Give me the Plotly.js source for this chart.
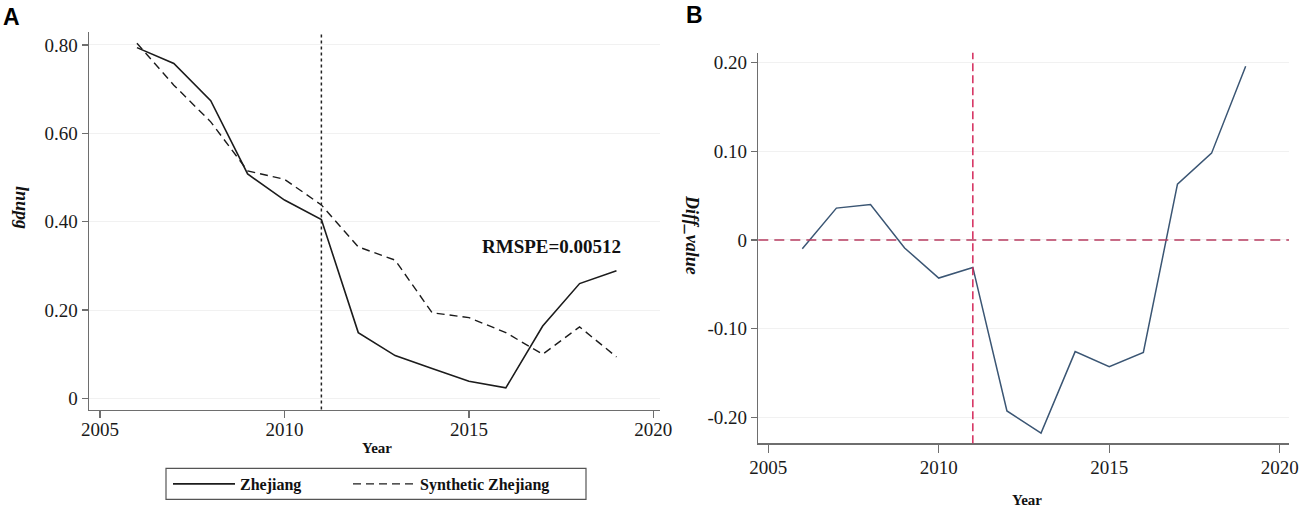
<!DOCTYPE html>
<html>
<head>
<meta charset="utf-8">
<script src="https://cdn.plot.ly/plotly-3.0.1.min.js"></script>
<style>
  html, body { margin: 0; padding: 0; background: #ffffff; }
  #chart { width: 1304px; height: 513px; }
</style>
</head>
<body>
<div id="chart"></div>
<script>
// ---------- data ----------
const years = [2006, 2007, 2008, 2009, 2010, 2011, 2012, 2013, 2014, 2015, 2016, 2017, 2018, 2019];
const zhejiang = [0.794, 0.758, 0.674, 0.508, 0.449, 0.405, 0.149, 0.097, 0.068, 0.039, 0.024, 0.164, 0.260, 0.289];
const syntheticZhejiang = [0.804, 0.709, 0.626, 0.515, 0.496, 0.438, 0.343, 0.313, 0.194, 0.183, 0.149, 0.100, 0.162, 0.094];
const diffValue = [-0.010, 0.036, 0.040, -0.009, -0.043, -0.031, -0.193, -0.218, -0.126, -0.143, -0.127, 0.063, 0.098, 0.196];
const treatYear = 2011;
const rmspeLabel = "RMSPE=0.00512";
const seriesNames = ["Zhejiang", "Synthetic Zhejiang"];
const xTitle = "Year";
const yTitleA = "lnupg";
const yTitleB = "Diff_value";

const xTickVals = [2005, 2010, 2015, 2020];
const xTickText = ["2005", "2010", "2015", "2020"];
const yTickValsA = [0, 0.2, 0.4, 0.6, 0.8];
const yTickTextA = ["0", "0.20", "0.40", "0.60", "0.80"];
const yTickValsB = [-0.2, -0.1, 0, 0.1, 0.2];
const yTickTextB = ["-0.20", "-0.10", "0", "0.10", "0.20"];

// ---------- layout helpers ----------
const W = 1304, H = 513;
const px = v => v / W;
const py = v => 1 - v / H;
const serif = "Liberation Serif";
const axisGray = "#6e6e6e";
const legendFont = { family: serif, size: 16, color: "#111111", weight: "bold" };

const traces = [
  {
    x: years, y: zhejiang, name: seriesNames[0], type: "scatter", mode: "lines",
    line: { color: "#1c1c1c", width: 1.6 }, xaxis: "x", yaxis: "y", showlegend: true, legend: "legend"
  },
  {
    x: years, y: syntheticZhejiang, name: seriesNames[1], type: "scatter", mode: "lines",
    line: { color: "#1c1c1c", width: 1.4, dash: "8px,5px" }, xaxis: "x", yaxis: "y", showlegend: true, legend: "legend2"
  },
  {
    x: years, y: diffValue, name: yTitleB, type: "scatter", mode: "lines",
    line: { color: "#3b5674", width: 1.5 }, xaxis: "x2", yaxis: "y2", showlegend: false
  }
];

function axisCommon(extra) {
  return Object.assign({
    showline: true, linecolor: axisGray, linewidth: 1.5,
    ticks: "outside", tickcolor: axisGray, tickwidth: 1.3,
    zeroline: false,
    tickfont: { family: serif, size: 19, color: "#1a1a1a" }
  }, extra);
}

const layout = {
  width: W, height: H,
  margin: { l: 0, r: 0, t: 0, b: 0 },
  font: { family: serif, color: "#1a1a1a" },
  paper_bgcolor: "#ffffff", plot_bgcolor: "#ffffff",
  showlegend: true,
  legend: {
    orientation: "h", x: px(168), y: py(484), xanchor: "left", yanchor: "middle",
    bgcolor: "rgba(0,0,0,0)", borderwidth: 0, itemwidth: 62, font: legendFont
  },
  legend2: {
    orientation: "h", x: px(348), y: py(484), xanchor: "left", yanchor: "middle",
    bgcolor: "rgba(0,0,0,0)", borderwidth: 0, itemwidth: 62, font: legendFont
  },
  xaxis: axisCommon({
    domain: [px(89), px(660)], range: [2004.70, 2020.18],
    tickvals: xTickVals, ticktext: xTickText, ticklen: 7, ticklabelstandoff: -5,
    showgrid: false, anchor: "y"
  }),
  yaxis: axisCommon({
    domain: [py(409.5), py(31.7)], range: [-0.025, 0.830],
    tickvals: yTickValsA, ticktext: yTickTextA, ticklen: 6,
    showgrid: true, gridcolor: "#f1f1f1", gridwidth: 1, anchor: "x"
  }),
  xaxis2: axisCommon({
    domain: [px(758.3), px(1289)], range: [2004.71, 2020.27],
    tickvals: xTickVals, ticktext: xTickText, ticklen: 8, ticklabelstandoff: -2,
    showgrid: false, anchor: "y2"
  }),
  yaxis2: axisCommon({
    domain: [py(443.3), py(52.7)], range: [-0.2295, 0.2114],
    tickvals: yTickValsB, ticktext: yTickTextB, ticklen: 6,
    showgrid: true, gridcolor: "#f1f1f1", gridwidth: 1, anchor: "x2"
  }),
  shapes: [
    { type: "line", xref: "x", yref: "y domain", x0: treatYear, x1: treatYear, y0: 0, y1: 1,
      line: { color: "#222222", width: 1.5, dash: "3px,3px" } },
    { type: "line", xref: "x2", yref: "y2 domain", x0: treatYear, x1: treatYear, y0: 0, y1: 1,
      line: { color: "#d42a5b", width: 1.5, dash: "8px,4px" } },
    { type: "line", xref: "x2 domain", yref: "y2", x0: 0, x1: 1, y0: 0, y1: 0,
      line: { color: "#b63d60", width: 1.5, dash: "10px,6px" } },
    { type: "rect", xref: "paper", yref: "paper", x0: px(166), x1: px(586), y0: py(499.3), y1: py(468.3),
      line: { color: "#555555", width: 1.2 }, fillcolor: "rgba(0,0,0,0)" }
  ],
  annotations: [
    { text: "<b>A</b>", xref: "paper", yref: "paper", x: px(1), y: py(16.5), xanchor: "left", yanchor: "middle",
      showarrow: false, font: { family: "Liberation Sans", size: 23, color: "#000" } },
    { text: "<b>B</b>", xref: "paper", yref: "paper", x: px(684), y: py(15.5), xanchor: "left", yanchor: "middle",
      showarrow: false, font: { family: "Liberation Sans", size: 23, color: "#000" } },
    { text: "<b><i>" + yTitleA + "</i></b>", xref: "paper", yref: "paper", x: px(22), y: py(207), xanchor: "center", yanchor: "middle",
      textangle: 90, showarrow: false, font: { family: serif, size: 18, color: "#111" } },
    { text: "<b><i>" + yTitleB + "</i></b>", xref: "paper", yref: "paper", x: px(692), y: py(235), xanchor: "center", yanchor: "middle",
      textangle: 90, showarrow: false, font: { family: serif, size: 18, color: "#111" } },
    { text: "<b>" + xTitle + "</b>", xref: "paper", yref: "paper", x: px(376.7), y: py(448), xanchor: "center", yanchor: "middle",
      showarrow: false, font: { family: serif, size: 15, color: "#111" } },
    { text: "<b>" + xTitle + "</b>", xref: "paper", yref: "paper", x: px(1027), y: py(500), xanchor: "center", yanchor: "middle",
      showarrow: false, font: { family: serif, size: 15, color: "#111" } },
    { text: "<b>" + rmspeLabel + "</b>", xref: "x", yref: "y", x: 2017.25, y: 0.343, xanchor: "center", yanchor: "middle",
      showarrow: false, font: { family: serif, size: 19, color: "#111" } }
  ]
};

Plotly.newPlot("chart", traces, layout, { displayModeBar: false, staticPlot: true });
</script>
</body>
</html>
